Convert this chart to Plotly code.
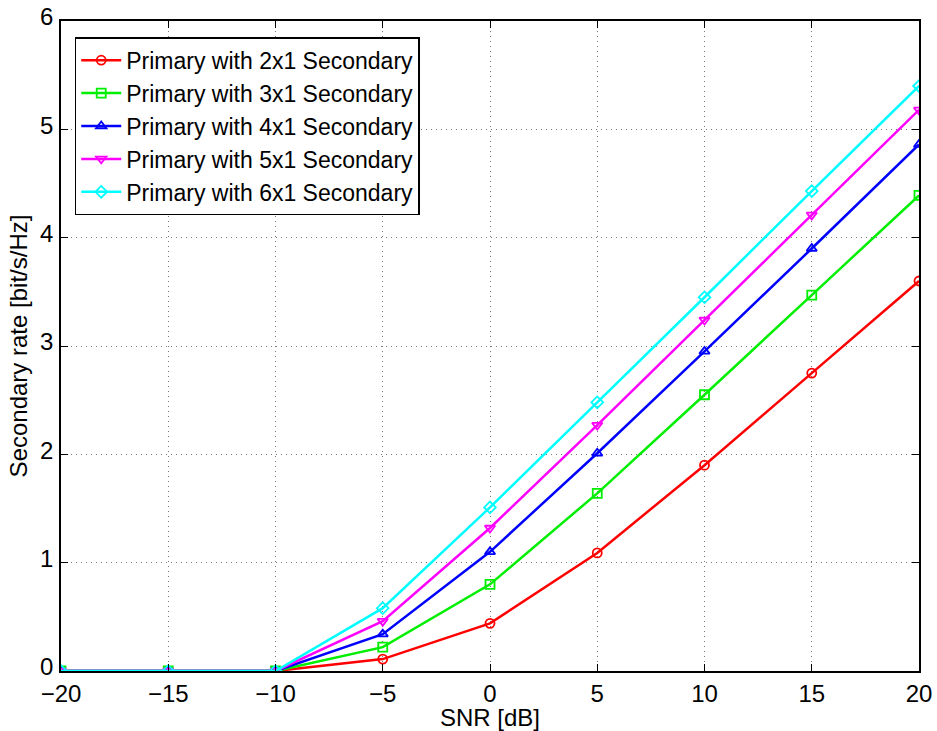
import plotly.graph_objects as go

snr = [-20, -15, -10, -5, 0, 5, 10, 15, 20]
rate_2x1 = [0, 0, 0, 0.11, 0.44, 1.09, 1.90, 2.75, 3.60]
rate_3x1 = [0, 0, 0, 0.22, 0.80, 1.64, 2.55, 3.47, 4.39]
rate_4x1 = [0, 0, 0, 0.34, 1.10, 2.01, 2.95, 3.90, 4.86]
rate_5x1 = [0, 0, 0, 0.46, 1.32, 2.27, 3.24, 4.21, 5.18]
rate_6x1 = [0, 0, 0, 0.58, 1.51, 2.48, 3.45, 4.43, 5.40]

series = [
    ("Primary with 2x1 Secondary", rate_2x1, "#ff0000", "circle-open"),
    ("Primary with 3x1 Secondary", rate_3x1, "#00ee00", "square-open"),
    ("Primary with 4x1 Secondary", rate_4x1, "#0000ff", "triangle-up-open"),
    ("Primary with 5x1 Secondary", rate_5x1, "#ff00ff", "triangle-down-open"),
    ("Primary with 6x1 Secondary", rate_6x1, "#00ffff", "diamond-open"),
]

fig = go.Figure()
for name, vals, col, sym in series:
    fig.add_trace(go.Scatter(
        x=snr, y=vals, name=name, mode="lines+markers",
        line=dict(color=col, width=2.5),
        marker=dict(symbol=sym, size=9, color=col, line=dict(color=col, width=1.8)),
    ))

axis_common = dict(
    showline=True, linecolor="black", linewidth=1.5, mirror="ticks",
    ticks="inside", ticklen=7, tickcolor="black", tickwidth=1,
    showgrid=True, gridcolor="#777777", griddash="1px,4px", gridwidth=1,
    zeroline=False, tickfont=dict(size=24, color="black"),
    automargin=False,
)

fig.update_xaxes(range=[-20, 20], dtick=5,
                 title=dict(text="SNR [dB]", font=dict(size=24, color="black"), standoff=2),
                 ticklabelstandoff=0, **axis_common)
fig.update_yaxes(range=[0, 6], dtick=1,
                 title=dict(text="Secondary rate [bit/s/Hz]", font=dict(size=24, color="black"), standoff=6),
                 ticklabelstandoff=1, ticklabelshift=-4, **axis_common)

fig.update_layout(
    width=937, height=731,
    margin=dict(l=61, r=18, t=21, b=60),
    paper_bgcolor="white", plot_bgcolor="white",
    font=dict(family="Liberation Sans, Arial, sans-serif", color="black"),
    legend=dict(
        x=0.016, y=0.975, xanchor="left", yanchor="top",
        bgcolor="white", bordercolor="black", borderwidth=1.5,
        font=dict(size=23, color="black"),
        tracegroupgap=0, itemwidth=40,
    ),
)

fig.write_html("out.html")
